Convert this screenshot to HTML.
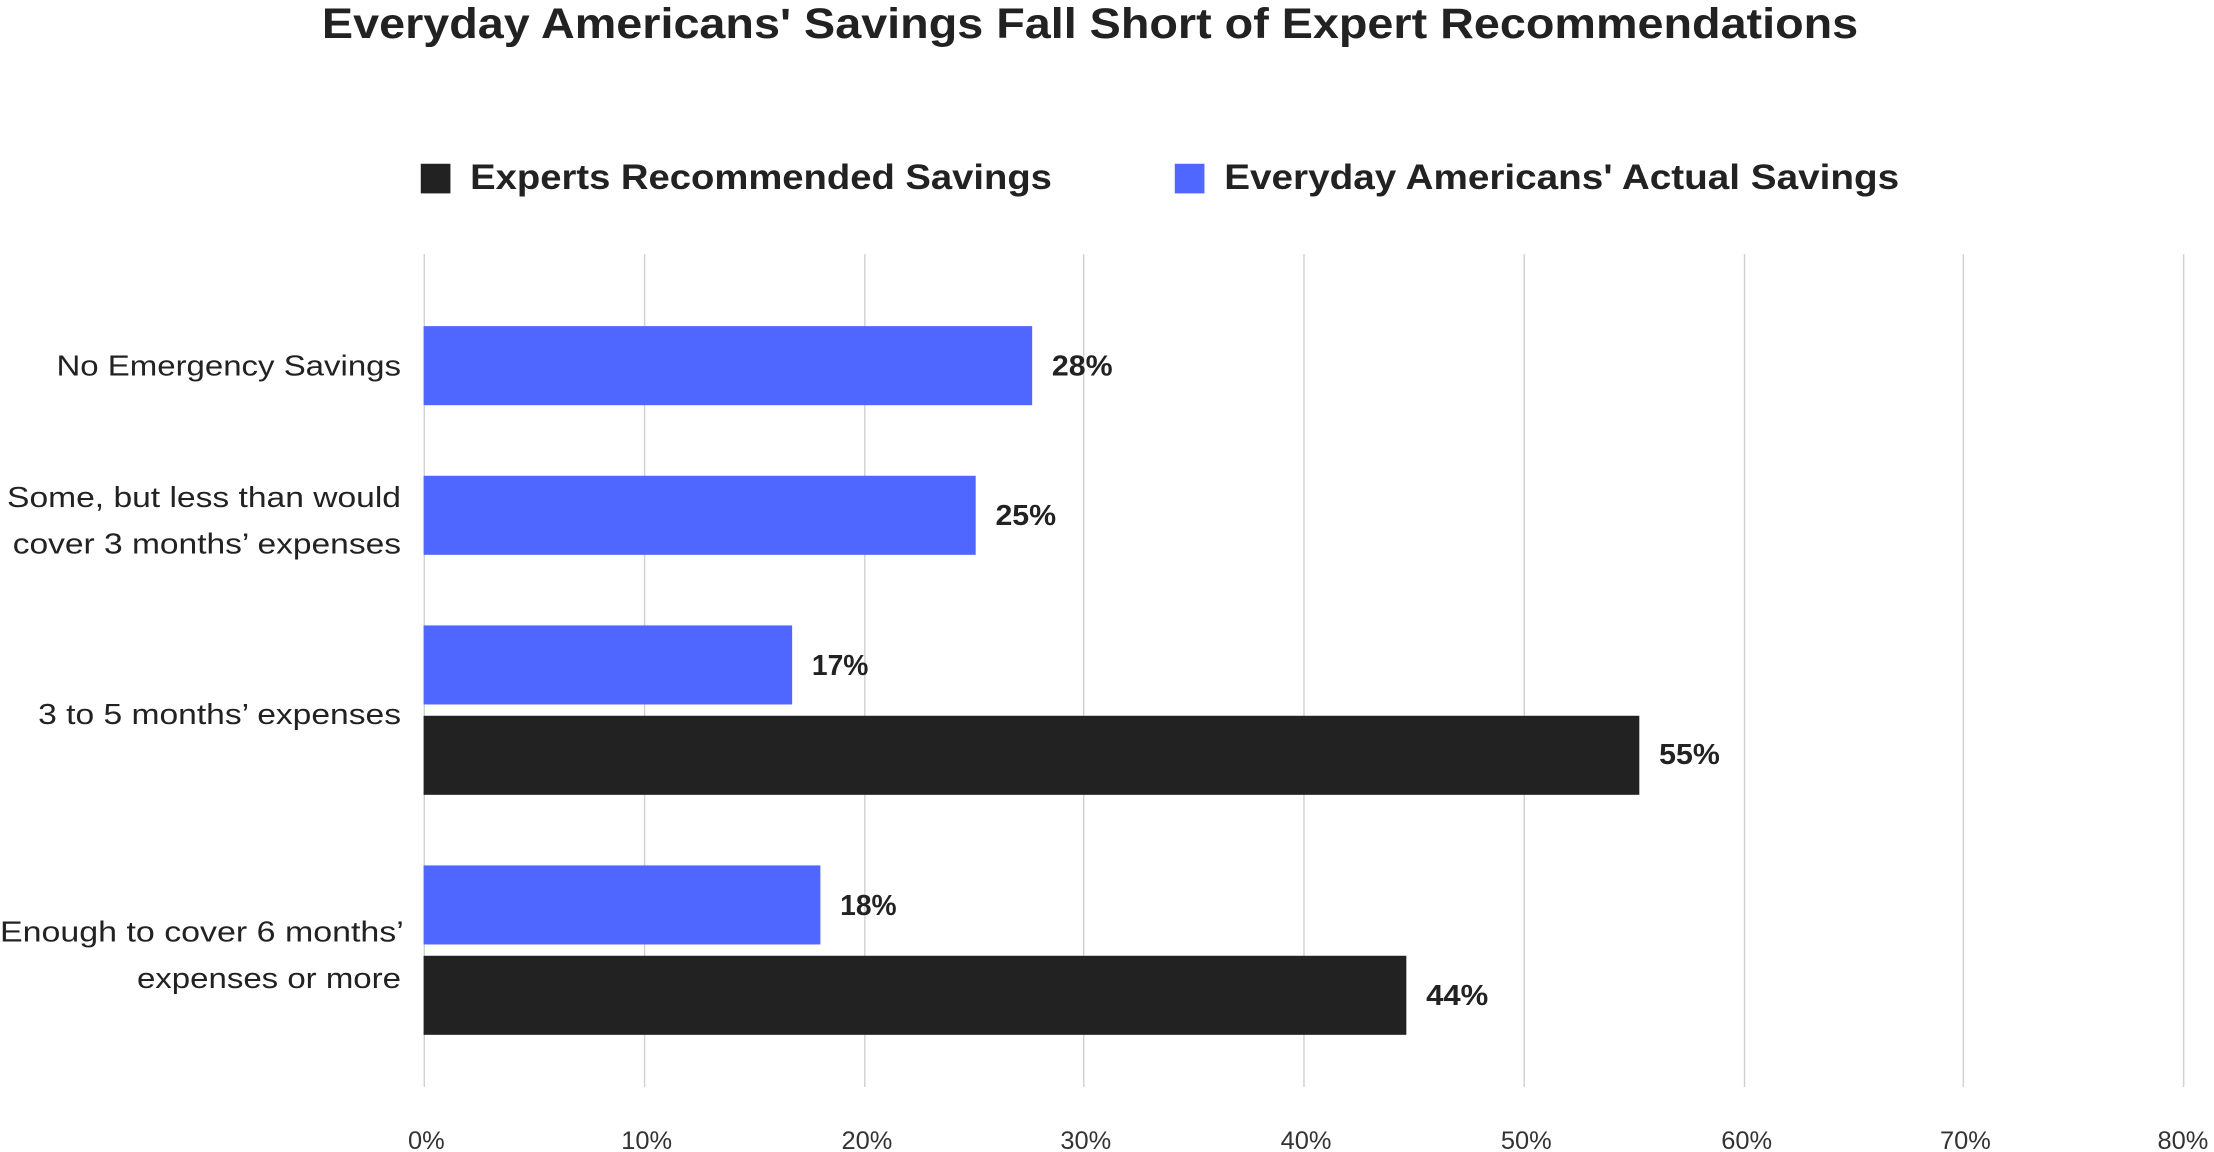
<!DOCTYPE html>
<html><head><meta charset="utf-8"><style>html,body{margin:0;padding:0;background:#fff}svg{display:block}</style></head>
<body>
<svg width="2214" height="1152" viewBox="0 0 1568 816" preserveAspectRatio="none" xmlns="http://www.w3.org/2000/svg" font-family="Liberation Sans, DejaVu Sans, sans-serif">
<rect width="1568" height="816" fill="#fff"/>
<text x="228" y="27" font-size="30" font-weight="bold" fill="#222" textLength="1088" lengthAdjust="spacingAndGlyphs">Everyday Americans' Savings Fall Short of Expert Recommendations</text>
<rect x="298" y="116" width="21" height="21" fill="#222"/>
<text x="333" y="134" font-size="25" font-weight="bold" fill="#222" textLength="412" lengthAdjust="spacingAndGlyphs">Experts Recommended Savings</text>
<rect x="832" y="116" width="21" height="21" fill="#4f66ff"/>
<text x="867" y="134" font-size="25" font-weight="bold" fill="#222" textLength="478" lengthAdjust="spacingAndGlyphs">Everyday Americans' Actual Savings</text>
<g stroke="#d0d0d0" stroke-width="1">
<line x1="300.5" y1="180" x2="300.5" y2="770"/><line x1="456.5" y1="180" x2="456.5" y2="770"/><line x1="612.5" y1="180" x2="612.5" y2="770"/><line x1="767.5" y1="180" x2="767.5" y2="770"/><line x1="923.5" y1="180" x2="923.5" y2="770"/><line x1="1079.5" y1="180" x2="1079.5" y2="770"/><line x1="1235.5" y1="180" x2="1235.5" y2="770"/><line x1="1390.5" y1="180" x2="1390.5" y2="770"/><line x1="1546.5" y1="180" x2="1546.5" y2="770"/>
</g>
<g font-size="18" fill="#333" text-anchor="middle">
<text x="302" y="814">0%</text><text x="458" y="814">10%</text><text x="614" y="814">20%</text><text x="769" y="814">30%</text><text x="925" y="814">40%</text><text x="1081" y="814">50%</text><text x="1237" y="814">60%</text><text x="1392" y="814">70%</text><text x="1546" y="814">80%</text>
</g>
<g fill="#4f66ff">
<rect x="300" y="231" width="431" height="56"/>
<rect x="300" y="337" width="391" height="56"/>
<rect x="300" y="443" width="261" height="56"/>
<rect x="300" y="613" width="281" height="56"/>
</g>
<g fill="#222">
<rect x="300" y="507" width="861" height="56"/>
<rect x="300" y="677" width="696" height="56"/>
</g>
<g font-size="20" font-weight="bold" fill="#222">
<text x="745" y="266" textLength="43" lengthAdjust="spacingAndGlyphs">28%</text><text x="705" y="372" textLength="43" lengthAdjust="spacingAndGlyphs">25%</text><text x="575" y="478" textLength="40" lengthAdjust="spacingAndGlyphs">17%</text><text x="1175" y="541" textLength="43" lengthAdjust="spacingAndGlyphs">55%</text><text x="595" y="648" textLength="40" lengthAdjust="spacingAndGlyphs">18%</text><text x="1010" y="712" textLength="44" lengthAdjust="spacingAndGlyphs">44%</text>
</g>
<g font-size="20" fill="#222">
<text x="40" y="266" textLength="244" lengthAdjust="spacingAndGlyphs">No Emergency Savings</text>
<text x="5" y="359" textLength="279" lengthAdjust="spacingAndGlyphs">Some, but less than would</text>
<text x="9" y="392" textLength="275" lengthAdjust="spacingAndGlyphs">cover 3 months’ expenses</text>
<text x="27" y="513" textLength="257" lengthAdjust="spacingAndGlyphs">3 to 5 months’ expenses</text>
<text x="0" y="667" textLength="286" lengthAdjust="spacingAndGlyphs">Enough to cover 6 months’</text>
<text x="97" y="700" textLength="187" lengthAdjust="spacingAndGlyphs">expenses or more</text>
</g>
</svg>
</body></html>
